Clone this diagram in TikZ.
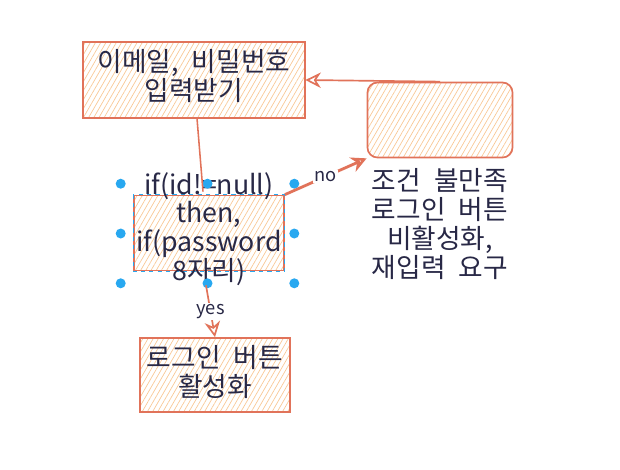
\documentclass[tikz,border=0pt]{standalone}
\usepackage{fontspec}
\setmainfont[WordSpace=2.2]{Noto Sans CJK KR}
\usetikzlibrary{patterns.meta,arrows.meta,calc}
\definecolor{sketchred}{RGB}{225,115,90}
\definecolor{hatchpeach}{RGB}{248,200,150}
\definecolor{inkblue}{RGB}{40,40,70}
\definecolor{selblue}{RGB}{40,168,240}

\tikzset{
    sketchbox/.style={draw=sketchred, line width=1.2pt,
        pattern={Lines[angle=60,distance=3.2pt,line width=0.5pt]},
        pattern color=hatchpeach, inner sep=0pt},
    boxtext/.style={text=inkblue, align=center,
        font=\fontsize{19}{20.5}\selectfont},
    flow/.style={draw=sketchred, line width=1.2pt,
        -{Stealth[open,length=11pt,width=11pt]}},
    flowlabel/.style={fill=white, inner sep=1pt, text=inkblue,
        font=\fontsize{13}{15}\selectfont}
}

\begin{document}
\begin{tikzpicture}[x=0.025cm,y=-0.025cm]
    \useasboundingbox (0,0) rectangle (620,469);

    % Boxes
    \node[sketchbox, minimum width=5.55cm, minimum height=1.9cm] (input) at (194,80) {};
    \node[boxtext] (inputtext) at (194,76) {이메일, 비밀번호\\입력받기};

    \node[sketchbox, minimum width=3.75cm, minimum height=1.875cm] (check) at (209,233) {};
    \draw[selblue, dashed, line width=0.7pt] (check.north west) rectangle (check.south east);
    \node[boxtext] (checktext) at (209,229) {if(id!=null)\\then,\\if(password\\8자리)};

    \node[sketchbox, rounded corners=0.25cm, minimum width=3.625cm, minimum height=1.875cm] (fail) at (440,120) {};
    \node[boxtext] (failtext) at (440,224) {조건 불만족\\로그인 버튼\\비활성화,\\재입력 요구};

    \node[sketchbox, minimum width=3.75cm, minimum height=1.85cm] (ok) at (215,375) {};
    \node[boxtext] (oktext) at (215,372) {로그인 버튼\\활성화};

    % Selection handles
    \node[minimum width=4.325cm, minimum height=2.475cm, inner sep=0pt] (sel) at (207.5,233.5) {};
    \foreach \pt in {north west,north,north east,west,east,south west,south,south east}
        \fill[selblue] (sel.\pt) circle (5);

    % Connectors
    \draw[draw=sketchred, line width=1.1pt] ($(input.south)+(3,0)$) -- ($(check.north)+(-6,-3)$);
    \draw[flow, line width=2pt] (check.north east) -- node[flowlabel] {no} (fail.south west);
    \draw[flow] (fail.north) -- (input.east);
    \draw[flow] ($(check.south)+(-3,14)$) -- node[flowlabel] {yes} (ok.north);
\end{tikzpicture}
\end{document}
